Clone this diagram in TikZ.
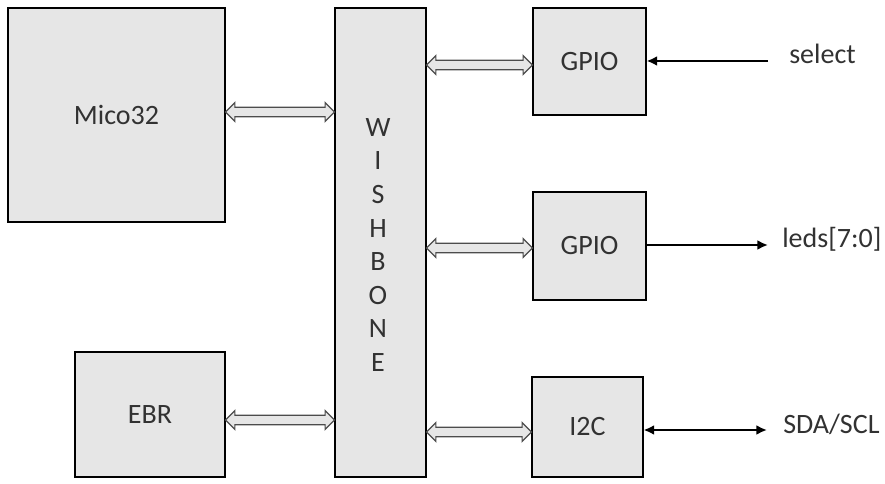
\documentclass[tikz,border=0pt]{standalone}
\usepackage{fontspec}
\setmainfont{Carlito}
\usepackage{tikz}
\usetikzlibrary{calc}
\usetikzlibrary{arrows.meta}

\definecolor{boxgray}{RGB}{230,230,230}
\definecolor{txtgray}{RGB}{50,50,50}

\tikzset{
  blk/.style={draw=black, line width=0.8pt, fill=boxgray, inner sep=0pt, text=txtgray,
    font=\fontsize{21}{25}\selectfont},
  lbl/.style={text=txtgray, inner sep=0pt, font=\fontsize{21}{25}\selectfont},
  sig/.style={line width=1.6pt, black},
  bus/.style={draw=black!70, line width=0.9pt, fill=boxgray,
    to path={let \p1=(\tikztostart), \p2=(\tikztotarget) in
      (\x1,\y1) -- (\x1+7pt,\y1+7pt) -- (\x1+7pt,\y1+3.6pt) -- (\x2-7pt,\y1+3.6pt)
      -- (\x2-7pt,\y1+7pt) -- (\x2,\y1) -- (\x2-7pt,\y1-7pt) -- (\x2-7pt,\y1-3.6pt)
      -- (\x1+7pt,\y1-3.6pt) -- (\x1+7pt,\y1-7pt) -- cycle}}
}

\begin{document}
\begin{tikzpicture}[x=0.75pt, y=-0.75pt, >={Latex[length=8pt, width=7.5pt]}]
  \useasboundingbox (0,0) rectangle (885,484);

  \node[blk, minimum width=162.75pt, minimum height=160.5pt] (mico) at (116.5,115) {Mico32};
  \node[blk, minimum width=112.5pt, minimum height=93.75pt] (ebr) at (150,414.5) {EBR};
  \node[blk, minimum width=68.25pt, minimum height=351.75pt] (wb) at (380.5,242.5) {};
  \node[lbl, align=center, font=\fontsize{21}{25.2}\selectfont] (wbtxt) at (378,245) {W\\I\\S\\H\\B\\O\\N\\E};

  \node[blk, minimum width=84.75pt, minimum height=80.25pt] (gpioA) at (589.5,61.5) {GPIO};
  \node[blk, minimum width=84.75pt, minimum height=81pt] (gpioB) at (589.5,246) {GPIO};
  \node[blk, minimum width=83.25pt, minimum height=75pt] (iic) at (587.5,427) {I2C};

  \path[bus] (mico.east |- 0,112) to (wb.west |- 0,112);
  \path[bus] (ebr.east |- 0,420) to (wb.west |- 0,420);
  \path[bus] (wb.east |- 0,65) to (gpioA.west |- 0,65);
  \path[bus] (wb.east |- 0,248) to (gpioB.west |- 0,248);
  \path[bus] (wb.east |- 0,432) to (iic.west |- 0,432);

  \node[lbl, anchor=base west] (sel) at (789,64) {select};
  \node[lbl, anchor=base west] (leds) at (782,248) {leds[7:0]};
  \node[lbl, anchor=base west] (sda) at (783,433) {SDA/SCL};

  \coordinate (selend) at (768,61);
  \coordinate (ledend) at (768,245);
  \coordinate (sdaend) at (767,430);
  \draw[sig, ->] (selend) -- (gpioA.east |- selend);
  \draw[sig, ->] (gpioB.east |- ledend) -- (ledend);
  \draw[sig, <->] (iic.east |- sdaend) -- (sdaend);
\end{tikzpicture}
\end{document}
